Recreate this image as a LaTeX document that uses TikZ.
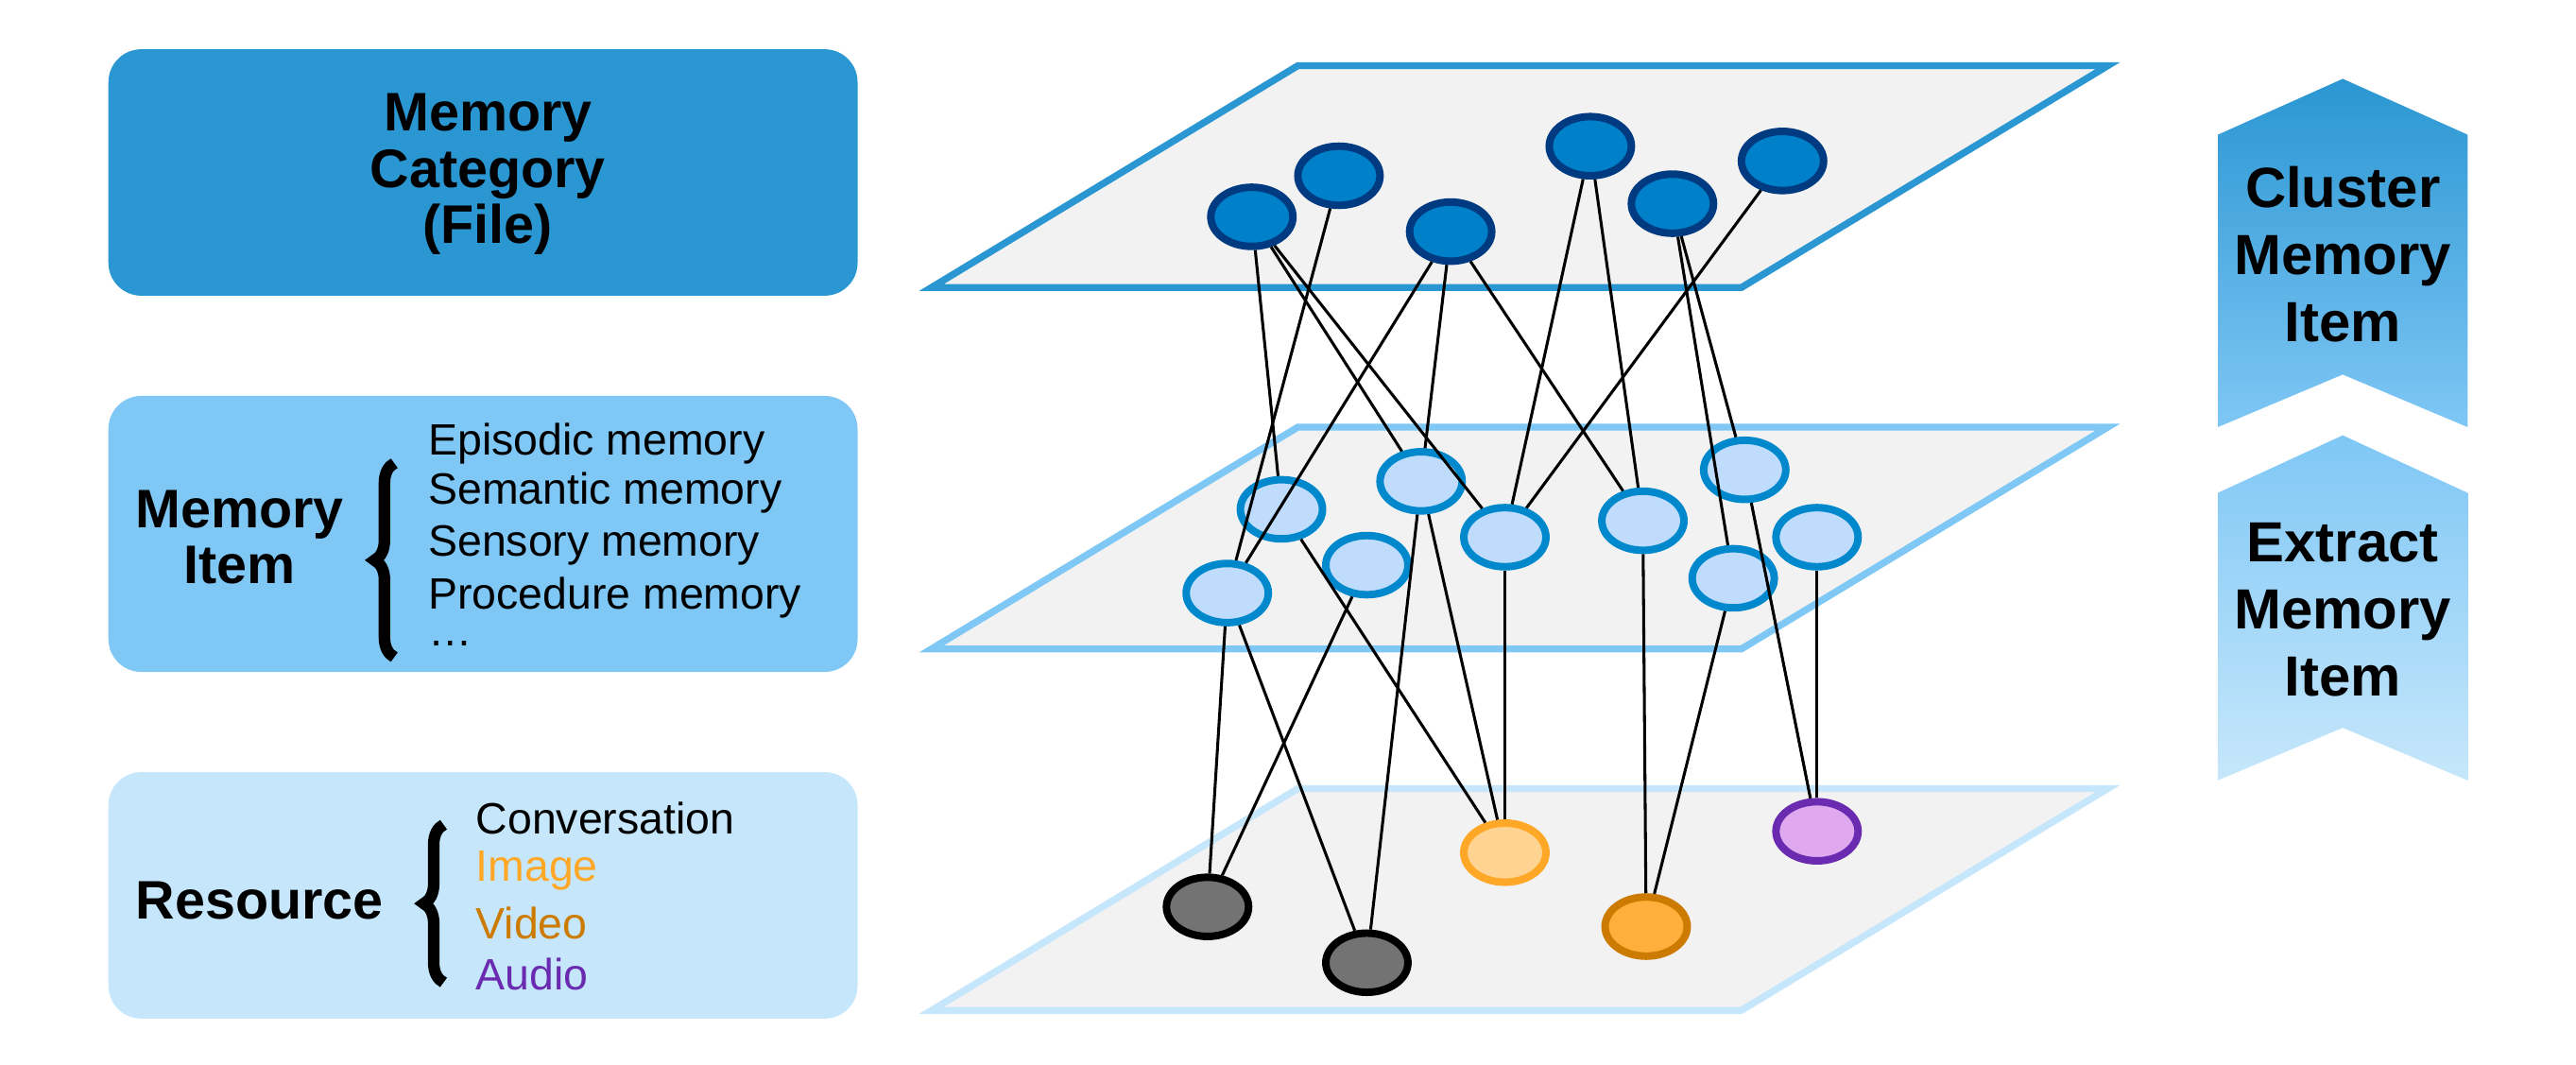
\documentclass[tikz,border=0pt]{standalone}
\usepackage{fontspec}
\setmainfont{Liberation Sans}
\usetikzlibrary{shapes.geometric, positioning, decorations.pathreplacing}

\definecolor{catblue}{HTML}{2A96D2}
\definecolor{itemblue}{HTML}{7FC7F5}
\definecolor{resblue}{HTML}{C6E7FB}
\definecolor{topnode}{HTML}{0080C8}
\definecolor{topedge}{HTML}{003A80}
\definecolor{midnode}{HTML}{C0DCFC}
\definecolor{midedge}{HTML}{0088CC}
\definecolor{imgcol}{HTML}{FFA726}
\definecolor{vidcol}{HTML}{CC7A00}
\definecolor{audcol}{HTML}{6A2BB0}
\definecolor{audfill}{HTML}{E0A8EE}

\tikzset{
  plane/.style={fill=black!5, line width=1.2pt},
  top/.style={ellipse, draw=topedge, fill=topnode, line width=1.3pt, minimum width=0.5cm, minimum height=0.36cm, inner sep=0pt},
  mid/.style={ellipse, draw=midedge, fill=midnode, line width=1.3pt, minimum width=0.5cm, minimum height=0.36cm, inner sep=0pt},
  bot/.style={ellipse, line width=1.3pt, minimum width=0.5cm, minimum height=0.36cm, inner sep=0pt},
  lst/.style={anchor=west, font=\fontsize{7.6}{9}\selectfont, inner sep=0pt},
  big/.style={font=\fontsize{9.4}{9.7}\selectfont\bfseries, align=center},
  chev/.style={font=\fontsize{9.8}{11.6}\selectfont\bfseries, align=center},
  link/.style={line width=0.5pt}
}

\begin{document}
\begin{tikzpicture}
\useasboundingbox (0,0) rectangle (15.68,-6.48);

% left boxes
\fill[catblue, rounded corners=0.2cm] (0.66,-0.30) rectangle (5.22,-1.80);
\fill[itemblue, rounded corners=0.2cm] (0.66,-2.41) rectangle (5.22,-4.09);
\fill[resblue, rounded corners=0.2cm] (0.66,-4.70) rectangle (5.22,-6.20);

\node[big] (cat) at (2.97,-1.06) {Memory\\Category\\(File)};
\node[big] (item) at (1.46,-3.27) {Memory\\Item};
\node[big] (res) at (1.58,-5.48) {Resource};

\draw[decorate, decoration={brace, amplitude=0.12cm}, line width=2pt] (2.40,-4.00) -- (2.40,-2.82);
\node[lst] (ep) at (2.60,-2.70) {Episodic memory};
\node[lst] (se) at (2.60,-3.00) {Semantic memory};
\node[lst] (sn) at (2.60,-3.32) {Sensory memory};
\node[lst] (pr) at (2.60,-3.64) {Procedure memory};
\node[lst] (dt) at (2.60,-3.92) {\dots};

\draw[decorate, decoration={brace, amplitude=0.12cm}, line width=2pt] (2.70,-5.98) -- (2.70,-5.02);
\node[lst] (conv) at (2.89,-4.98) {Conversation};
\node[lst, text=imgcol] (img) at (2.89,-5.30) {Image};
\node[lst, text=vidcol] (vid) at (2.89,-5.62) {Video};
\node[lst, text=audcol] (aud) at (2.89,-5.93) {Audio};

% planes
\draw[plane, draw=resblue] (5.67,-6.15) -- (7.90,-4.80) -- (12.83,-4.80) -- (10.60,-6.15) -- cycle;
\draw[plane, draw=itemblue] (5.67,-3.95) -- (7.90,-2.60) -- (12.83,-2.60) -- (10.60,-3.95) -- cycle;
\draw[plane, draw=catblue] (5.67,-1.75) -- (7.90,-0.40) -- (12.83,-0.40) -- (10.60,-1.75) -- cycle;

% chevrons
\shade[top color=catblue, bottom color=itemblue] (13.50,-0.82) -- (14.26,-0.48) -- (15.02,-0.82) -- (15.02,-2.60) -- (14.26,-2.28) -- (13.50,-2.60) -- cycle;
\shade[top color=itemblue, bottom color=resblue] (13.50,-3.00) -- (14.26,-2.65) -- (15.02,-3.00) -- (15.02,-4.75) -- (14.26,-4.43) -- (13.50,-4.75) -- cycle;
\node[chev] (clu) at (14.26,-1.55) {Cluster\\Memory\\Item};
\node[chev] (ext) at (14.26,-3.71) {Extract\\Memory\\Item};

% nodes
\node[top] (t1) at (7.62,-1.32) {};
\node[top] (t2) at (8.15,-1.07) {};
\node[top] (t3) at (8.83,-1.41) {};
\node[top] (t4) at (9.68,-0.89) {};
\node[top] (t5) at (10.18,-1.24) {};
\node[top] (t6) at (10.85,-0.98) {};

\node[mid] (m1) at (7.80,-3.10) {};
\node[mid] (m2) at (8.65,-2.93) {};
\node[mid] (m3) at (8.32,-3.44) {};
\node[mid] (m4) at (7.47,-3.61) {};
\node[mid] (m5) at (9.16,-3.27) {};
\node[mid] (m6) at (10.00,-3.17) {};
\node[mid] (m7) at (10.62,-2.86) {};
\node[mid] (m8) at (10.55,-3.52) {};
\node[mid] (m9) at (11.06,-3.27) {};

\node[bot, draw=black, fill=black!55] (g1) at (7.35,-5.52) {};
\node[bot, draw=black, fill=black!55] (g2) at (8.32,-5.86) {};
\node[bot, draw=imgcol, fill=imgcol!50] (i1) at (9.16,-5.19) {};
\node[bot, draw=vidcol, fill=imgcol!90] (v1) at (10.02,-5.64) {};
\node[bot, draw=audcol, fill=audfill] (a1) at (11.06,-5.06) {};

% links
\draw[link] (t1) -- (m1);
\draw[link] (t1) -- (m2);
\draw[link] (t1) -- (m5);
\draw[link] (t2) -- (m4);
\draw[link] (t3) -- (m4);
\draw[link] (t3) -- (m2);
\draw[link] (t3) -- (m6);
\draw[link] (t4) -- (m5);
\draw[link] (t4) -- (m6);
\draw[link] (t5) -- (m8);
\draw[link] (t5) -- (m7);
\draw[link] (t6) -- (m5);
\draw[link] (m4) -- (g1);
\draw[link] (m4) -- (g2);
\draw[link] (m3) -- (g1);
\draw[link] (m1) -- (i1);
\draw[link] (m2) -- (g2);
\draw[link] (m2) -- (i1);
\draw[link] (m5) -- (i1);
\draw[link] (m6) -- (v1);
\draw[link] (m8) -- (v1);
\draw[link] (m7) -- (a1);
\draw[link] (m9) -- (a1);
\end{tikzpicture}
\end{document}
